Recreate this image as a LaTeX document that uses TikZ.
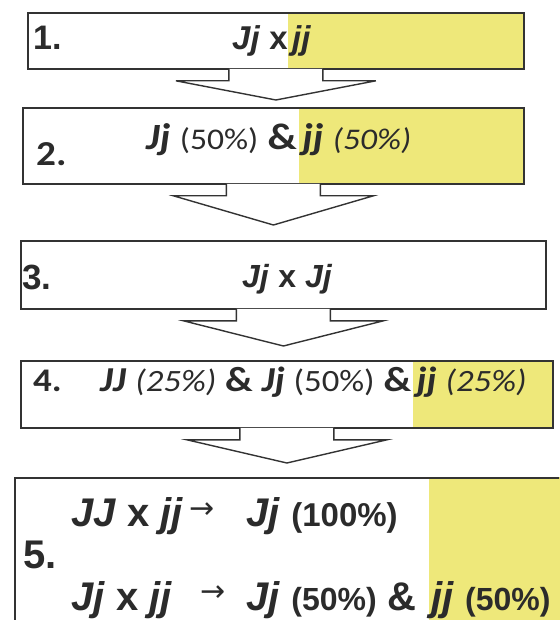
\documentclass[tikz,border=0pt]{standalone}
\usepackage{fontspec}
\setmainfont{Liberation Sans}
\newfontfamily\calfont[FakeStretch=1.12]{Carlito}
\newfontfamily\symfont{DejaVu Sans}
\usetikzlibrary{calc}
\definecolor{frame}{HTML}{333333}
\definecolor{ink}{HTML}{2B2B2B}
\definecolor{hlY}{HTML}{EEE87A}
\pgfdeclarelayer{bg}
\pgfsetlayers{bg,main}
\newcommand{\gt}[1]{\textbf{\textit{#1}}}
\newcommand{\fs}[1]{\fontsize{#1}{#1}\selectfont}
\newcommand{\flowarrow}[3]{%
  \draw[blockarr] ($(#1.south)+(-47,1)$) -- ++(0,-12) -- ++(-53,0)
    -- ($(#1.south |- #2.north)+(0,#3)$) -- ($(#1.south)+(100,-11)$)
    -- ++(-53,0) -- ($(#1.south)+(47,1)$);}

\begin{document}
\begin{tikzpicture}[x=1pt,y=1pt,
  stage/.style={draw=frame,line width=1.8pt,anchor=north west,inner sep=0pt},
  lab/.style={anchor=base west,inner sep=0pt,text=ink},
  blockarr/.style={draw=frame,line width=1.4pt,fill=white,line join=miter},
  hl/.style={fill=hlY}]
  \useasboundingbox (0,0) rectangle (559,-620);
  \clip (0,0) rectangle (559,-620);
  \node[stage,minimum width=496pt,minimum height=56pt] (b1) at (27,-12) {};
  \node[stage,minimum width=501pt,minimum height=76pt] (b2) at (22,-107) {};
  \node[stage,minimum width=525pt,minimum height=68pt] (b3) at (20,-240) {};
  \node[stage,minimum width=532pt,minimum height=67pt] (b4) at (20,-360) {};
  \node[stage,minimum width=600pt,minimum height=200pt] (b5) at (14,-477) {};
  \flowarrow{b1}{b2}{7}
  \flowarrow{b2}{b3}{15}
  \flowarrow{b3}{b4}{14}
  \flowarrow{b4}{b5}{14}
  % 1.
  \node[lab,font={\fs{34}\bfseries}] (n1) at (33,-50) {1.};
  \node[lab,font=\fs{33}] (t1) at (232,-50) {\gt{Jj} \textbf{x}};
  \node[lab,font=\fs{33},xshift=4pt] (y1) at (t1.base east) {\gt{jj}};
  % 2.
  \node[lab,font={\calfont\fs{35}\bfseries}] (n2) at (36,-166) {2.};
  \node[lab,font={\calfont\fs{37}}] (t2) at (146,-150)
    {\gt{Jj} {\fs{30}(50\%)} \textbf{\&}};
  \node[lab,font={\calfont\fs{37}},xshift=5pt] (y2) at (t2.base east)
    {\gt{jj} {\fs{30}\itshape(50\%)}};
  % 3.
  \node[lab,font={\fs{35}\bfseries}] (n3) at (22,-289) {3.};
  \node[lab,font=\fs{32}] (t3) at (242,-287) {\gt{Jj} \textbf{x} \gt{Jj}};
  % 4.
  \node[lab,font={\calfont\fs{33}\bfseries}] (n4) at (33,-391) {4.};
  \node[lab,font={\calfont\fs{35}}] (t4) at (100,-391)
    {\gt{JJ} {\fs{31}\itshape(25\%)} \textbf{\&} \gt{Jj} {\fs{31}(50\%)} \textbf{\&}};
  \node[lab,font={\calfont\fs{35}},xshift=5pt] (y4) at (t4.base east)
    {\gt{jj} {\fs{31}\itshape(25\%)}};
  % 5.
  \node[lab,font={\fs{40}\bfseries}] (n5) at (23,-568) {5.};
  \node[lab,font=\fs{40}] (p5) at (71,-526) {\gt{JJ} \textbf{x} \gt{jj}};
  \node[inner sep=0pt,text=ink,font={\symfont\fs{30}}] (a5) at (202,-511) {→};
  \node[lab,font=\fs{40}] (r5) at (246,-526) {\gt{Jj} {\fs{33}\bfseries(100\%)}};
  \node[lab,font=\fs{40}] (q5) at (71,-610) {\gt{Jj} \textbf{x} \gt{jj}};
  \node[inner sep=0pt,text=ink,font={\symfont\fs{30}}] (c5) at (213,-594) {→};
  \node[lab,font=\fs{40}] (s5) at (246,-610)
    {\gt{Jj} {\fs{32}\bfseries(50\%)} \textbf{\&}};
  \node[lab,font=\fs{40},xshift=14pt] (y5) at (s5.base east)
    {\gt{jj} {\fs{32}\bfseries(50\%)}};
  \begin{pgfonlayer}{bg}
    \fill[hl] ($(y1.west |- b1.north)+(-4,0)$) rectangle (b1.south east);
    \fill[hl] ($(y2.west |- b2.north)+(-3,0)$) rectangle (b2.south east);
    \fill[hl] ($(y4.west |- b4.north)+(-4,0)$) rectangle (b4.south east);
    \fill[hl] ($(y5.west |- b5.north)+(-2,0)$) rectangle (b5.south east);
  \end{pgfonlayer}
\end{tikzpicture}
\end{document}
